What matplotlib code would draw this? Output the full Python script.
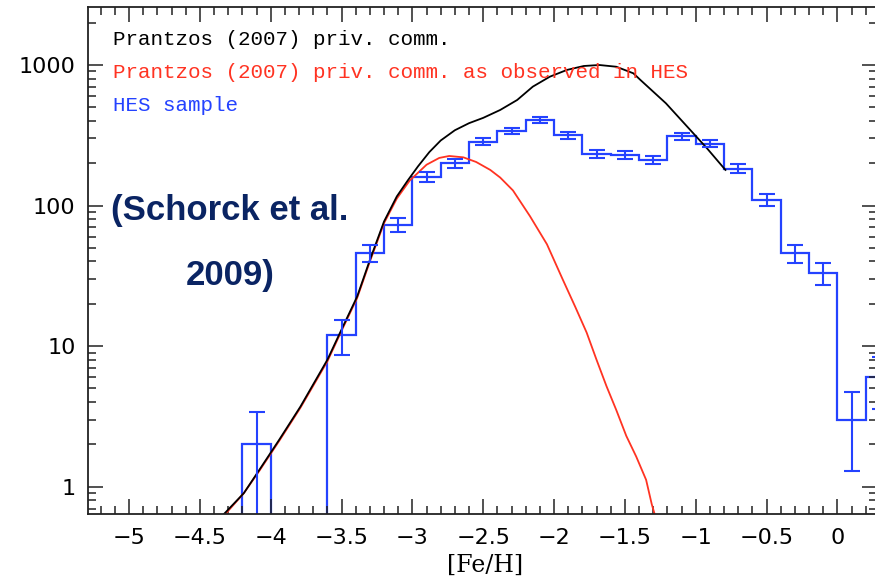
import matplotlib
matplotlib.use('Agg')
import matplotlib.pyplot as plt
import matplotlib.ticker as mticker
import numpy as np

plt.rcParams['font.family'] = 'DejaVu Sans'

# ===== HES sample histogram (0.2 dex bins) =====
bin_edges = [-4.2, -4.0, -3.8, -3.6, -3.4, -3.2, -3.0, -2.8, -2.6, -2.4, -2.2, -2.0,
             -1.8, -1.6, -1.4, -1.2, -1.0, -0.8, -0.6, -0.4, -0.2, 0.0, 0.2, 0.4]
hes_counts = [2, 0, 0, 12, 46, 73, 160, 200, 285, 340, 408, 316,
              233, 228, 212, 310, 276, 183, 110, 46, 33, 3, 6]
hes_err = [1.4, 0, 0, 3.4, 6.6, 8.5, 12.5, 14, 17, 18.5, 20, 17.8,
           15.2, 15.1, 14.6, 17.6, 16.6, 13.5, 10.5, 6.8, 5.7, 1.7, 2.4]

# ===== Prantzos (2007) model =====
model_feh = [-4.33, -4.19, -4.08, -3.94, -3.79, -3.60, -3.49, -3.39, -3.30, -3.20,
             -3.11, -3.03, -2.96, -2.88, -2.80, -2.70, -2.60, -2.50, -2.38, -2.26, -2.15,
             -2.03, -1.91, -1.79, -1.68, -1.56, -1.44, -1.39, -1.21, -1.06, -0.92, -0.79]
model_n = [0.64, 0.90, 1.32, 2.16, 3.72, 8.0, 13.8, 22.5, 41, 77,
           116, 152, 190, 240, 290, 343, 385, 420, 478, 563, 700,
           824, 920, 982, 998, 970, 871, 781, 533, 364, 255, 179]

# ===== model as observed in HES =====
obs_feh = [-4.32, -4.19, -4.08, -3.94, -3.79, -3.60, -3.49, -3.39, -3.30, -3.20,
           -3.11, -3.02, -2.90, -2.81, -2.74, -2.64, -2.55, -2.45, -2.38, -2.29,
           -2.17, -2.05, -1.94, -1.85, -1.77, -1.70, -1.63, -1.56, -1.49, -1.42,
           -1.35, -1.31, -1.29]
obs_n = [0.64, 0.90, 1.30, 2.12, 3.65, 7.8, 13.5, 22, 40, 75,
         112, 150, 195, 218, 225, 220, 204, 179, 158, 128,
         84, 53, 30, 19, 12.5, 8.0, 5.2, 3.5, 2.3, 1.64,
         1.12, 0.75, 0.64]

BLUE = '#2442ff'
RED = '#ff3322'

fig = plt.figure(figsize=(8.75, 5.79), dpi=100)
ax = fig.add_axes([88 / 875, 1 - 514 / 579, 789 / 875, 507 / 579])

ax.plot(obs_feh, obs_n, color=RED, lw=1.3)
ax.plot(model_feh, model_n, color='black', lw=1.3)

edges = np.array(bin_edges)
counts = np.array(hes_counts, dtype=float)
ax.stairs(np.where(counts > 0, counts, 1e-3), edges, baseline=1e-3, color=BLUE, lw=1.6)
centers = (edges[:-1] + edges[1:]) / 2
mask = counts > 0
ax.errorbar(centers[mask], counts[mask], yerr=np.array(hes_err)[mask], fmt='none',
            ecolor=BLUE, elinewidth=1.5, capsize=6, capthick=1.5)

ax.set_yscale('log')
ax.set_xlim(-5.29, 0.28)
ax.set_ylim(0.64, 2580)

ax.xaxis.set_major_locator(mticker.MultipleLocator(0.5))
ax.xaxis.set_minor_locator(mticker.MultipleLocator(0.1))
ax.xaxis.set_major_formatter(mticker.FuncFormatter(lambda v, p: f"{v:g}".replace('-', '\u2212')))
ax.yaxis.set_major_locator(mticker.FixedLocator([1, 10, 100, 1000]))
ax.yaxis.set_major_formatter(mticker.FuncFormatter(lambda v, p: f"{v:g}"))
ax.yaxis.set_minor_locator(mticker.LogLocator(base=10, subs=np.arange(2, 10)))
ax.yaxis.set_minor_formatter(mticker.NullFormatter())

ax.tick_params(which='both', direction='in', top=True, right=True, width=1.1, color='#222222')
ax.tick_params(which='major', length=11, labelsize=16, pad=10)
ax.tick_params(axis='y', which='major', pad=9)
ax.tick_params(which='minor', length=6)
for s in ax.spines.values():
    s.set_linewidth(1.3)
    s.set_color('#222222')

mono = 'Liberation Mono'
ax.text(0.032, 0.935, "Prantzos (2007) priv. comm.", transform=ax.transAxes,
        fontsize=15, family=mono, color='black', va='center')
ax.text(0.032, 0.870, "Prantzos (2007) priv. comm. as observed in HES", transform=ax.transAxes,
        fontsize=15, family=mono, color=RED, va='center')
ax.text(0.032, 0.805, "HES sample", transform=ax.transAxes,
        fontsize=15, family=mono, color=BLUE, va='center')

navy = '#0a2463'
ax.text(0.18, 0.58, "(Schorck et al.", transform=ax.transAxes, ha='center', va='baseline',
        fontsize=25, fontweight='bold', color=navy,
        family=['Liberation Sans Narrow', 'Liberation Sans'])
ax.text(0.18, 0.452, "2009)", transform=ax.transAxes, ha='center', va='baseline',
        fontsize=25, fontweight='bold', color=navy,
        family=['Liberation Sans Narrow', 'Liberation Sans'])

fig.text(485 / 875, 2 / 579, "[Fe/H]", ha='center', va='bottom',
         fontsize=17, family='DejaVu Serif')

fig.savefig('out.png', dpi=100)
